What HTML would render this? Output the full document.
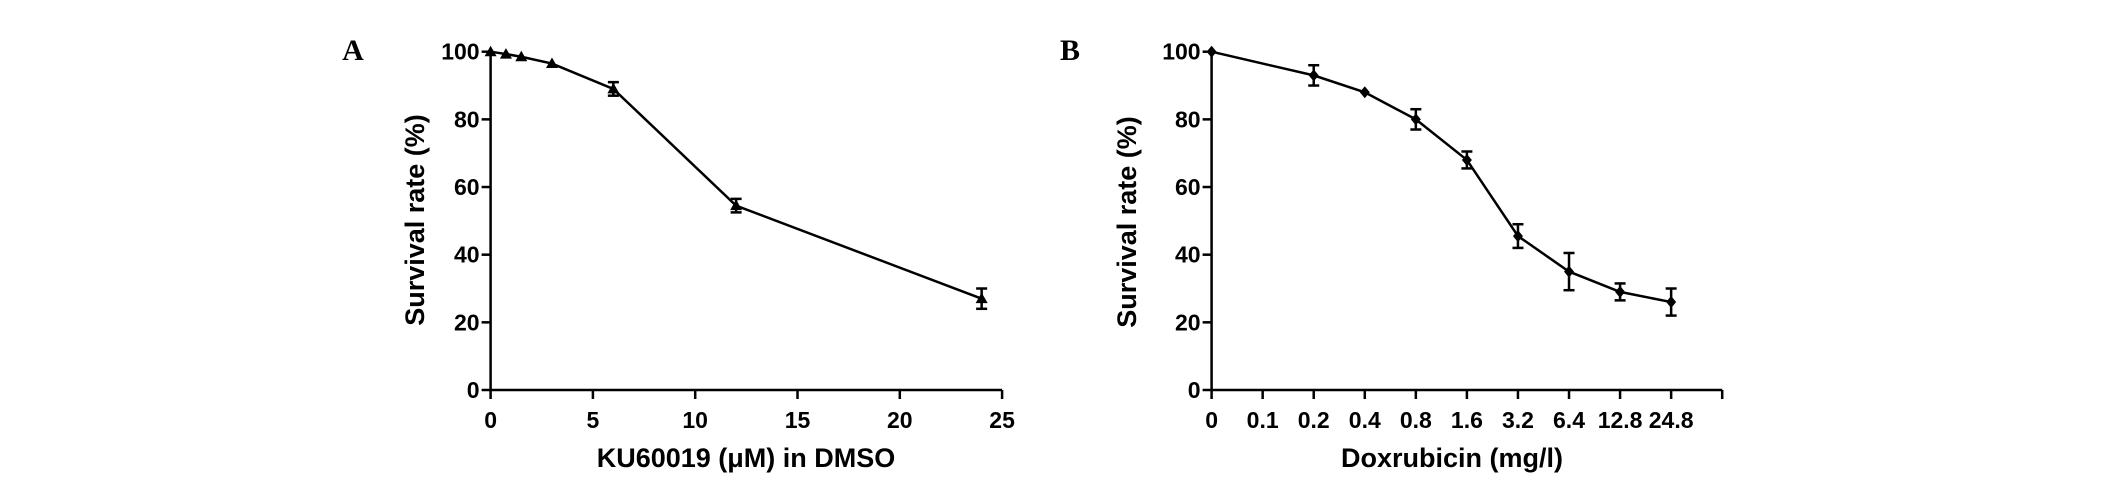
<!DOCTYPE html>
<html><head><meta charset="utf-8"><style>
html,body{margin:0;padding:0;background:#fff;}
svg text{font-family:"Liberation Sans Narrow","Liberation Sans",sans-serif;font-weight:bold;fill:#000;}
</style></head><body>
<svg id="fig" width="2126" height="484" viewBox="0 0 2126 484" xmlns="http://www.w3.org/2000/svg">
<rect width="2126" height="484" fill="#fff"/>
</svg>
<script>
// Panel A data
const aDoses = [0, 0.75, 1.5, 3, 6, 12, 24];
const aSurvival = [100, 99.3, 98.5, 96.5, 89, 54.5, 27];
const aError = [0, 0, 0, 0, 2, 2, 3];
const aXTicks = [0, 5, 10, 15, 20, 25];
const yTicks = [0, 20, 40, 60, 80, 100];
// Panel B data
const bCategories = ["0", "0.1", "0.2", "0.4", "0.8", "1.6", "3.2", "6.4", "12.8", "24.8"];
const bPointIndex = [0, 2, 3, 4, 5, 6, 7, 8, 9];
const bSurvival = [100, 93, 88, 80, 68, 45.5, 35, 29, 26];
const bError = [0, 3, 0, 3, 2.5, 3.5, 5.5, 2.5, 4];

const NS = "http://www.w3.org/2000/svg";
const svg = document.getElementById("fig");
function el(tag, attrs, parent, text) {
  const e = document.createElementNS(NS, tag);
  for (const k in attrs) e.setAttribute(k, attrs[k]);
  if (text !== undefined) e.textContent = text;
  (parent || svg).appendChild(e);
  return e;
}
const Y0 = 390, Y100 = 51.7;
const yScale = v => Y0 + (Y100 - Y0) * v / 100;

function yAxis(g, x0) {
  const ax = el("line", {x1: x0, y1: Y100 - 2, x2: x0, y2: Y0, stroke: "#000", "stroke-width": 2.5}, g);
  
  
  yTicks.forEach(v => {
    const y = yScale(v);
    el("line", {x1: x0 - 9, y1: y, x2: x0, y2: y, stroke: "#000", "stroke-width": 2.5}, g);
    const t = el("text", {x: x0 - 11, y: y + 8, "text-anchor": "end", "font-size": 23}, g, String(v));
    
    
  });
}
function errBar(g, x, v, e) {
  if (!e) return;
  const y1 = yScale(v + e), y2 = yScale(v - e);
  el("line", {x1: x, y1: y1, x2: x, y2: y2, stroke: "#000", "stroke-width": 2.5}, g);
  el("line", {x1: x - 5.5, y1: y1, x2: x + 5.5, y2: y1, stroke: "#000", "stroke-width": 2.5}, g);
  el("line", {x1: x - 5.5, y1: y2, x2: x + 5.5, y2: y2, stroke: "#000", "stroke-width": 2.5}, g);
}

// ---- Panel A ----
const gA = el("g", {});


const AX0 = 490.6, APU = 20.46;
const aX = d => AX0 + d * APU;
yAxis(gA, AX0);
const xaA = el("line", {x1: AX0, y1: Y0, x2: aX(25), y2: Y0, stroke: "#000", "stroke-width": 2.5}, gA);


aXTicks.forEach(v => {
  el("line", {x1: aX(v), y1: Y0, x2: aX(v), y2: Y0 + 9, stroke: "#000", "stroke-width": 2.5}, gA);
  const t = el("text", {x: aX(v), y: 428, "text-anchor": "middle", "font-size": 23}, gA, String(v));
  
  
});
const lineA = el("polyline", {points: aDoses.map((d, i) => aX(d) + "," + yScale(aSurvival[i])).join(" "), fill: "none", stroke: "#000", "stroke-width": 2.5}, gA);


aDoses.forEach((d, i) => {
  const x = aX(d), y = yScale(aSurvival[i]);
  errBar(gA, x, aSurvival[i], aError[i]);
  const m = el("polygon", {points: `${x},${y - 6} ${x - 6},${y + 4.5} ${x + 6},${y + 4.5}`, fill: "#000"}, gA);
  
  
});
const ltA = el("text", {x: 353, y: 60, "text-anchor": "middle", "font-size": 30, style: "font-family:'Liberation Serif',serif"}, gA, "A");


const xtA = el("text", {x: 746, y: 467, "text-anchor": "middle", "font-size": 27}, gA, "KU60019 (μM) in DMSO");


const ytA = el("text", {x: 0, y: 0, "text-anchor": "middle", "font-size": 27, transform: "translate(424,220) rotate(-90)"}, gA, "Survival rate (%)");



// ---- Panel B ----
const gB = el("g", {});


const BX0 = 1211.6, BSTEP = 51.06;
const bX = i => BX0 + i * BSTEP;
yAxis(gB, BX0);
const xaB = el("line", {x1: BX0, y1: Y0, x2: bX(10), y2: Y0, stroke: "#000", "stroke-width": 2.5}, gB);


for (let i = 0; i <= bCategories.length; i++) {
  el("line", {x1: bX(i), y1: Y0, x2: bX(i), y2: Y0 + 9, stroke: "#000", "stroke-width": 2.5}, gB);
}
bCategories.forEach((c, i) => {
  const t = el("text", {x: bX(i), y: 428, "text-anchor": "middle", "font-size": 23}, gB, c);
  
  
});
const lineB = el("polyline", {points: bPointIndex.map((ci, i) => bX(ci) + "," + yScale(bSurvival[i])).join(" "), fill: "none", stroke: "#000", "stroke-width": 2.5}, gB);


bPointIndex.forEach((ci, i) => {
  const x = bX(ci), y = yScale(bSurvival[i]);
  errBar(gB, x, bSurvival[i], bError[i]);
  const m = el("polygon", {points: `${x},${y - 6} ${x + 5},${y} ${x},${y + 6} ${x - 5},${y}`, fill: "#000"}, gB);
  
  
});
const ltB = el("text", {x: 1070, y: 60, "text-anchor": "middle", "font-size": 30, style: "font-family:'Liberation Serif',serif"}, gB, "B");


const xtB = el("text", {x: 1452, y: 467, "text-anchor": "middle", "font-size": 27}, gB, "Doxrubicin (mg/l)");


const ytB = el("text", {x: 0, y: 0, "text-anchor": "middle", "font-size": 27, transform: "translate(1136,222) rotate(-90)"}, gB, "Survival rate (%)");


</script>
</body></html>
